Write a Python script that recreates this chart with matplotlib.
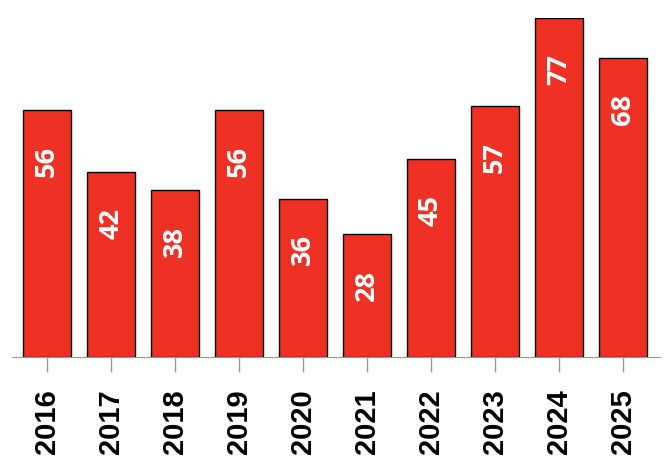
import matplotlib
matplotlib.use("Agg")
import matplotlib.pyplot as plt

years = ["2016", "2017", "2018", "2019", "2020", "2021", "2022", "2023", "2024", "2025"]
counts = [56, 42, 38, 56, 36, 28, 45, 57, 77, 68]

fig = plt.figure(figsize=(6.65, 4.62), dpi=100)
ax = fig.add_axes([12 / 665, 1 - 357 / 462, 648 / 665, (357 - 18) / 462])

x = list(range(len(years)))
ax.bar(x, counts, width=0.75, color="#EE3124", edgecolor="black", linewidth=1)

# value labels inside the bars, near the top
for xi, v in zip(x, counts):
    ax.annotate(str(v), (xi, v), xytext=(0, -37), textcoords="offset points",
                rotation=90, ha="center", va="center", color="white",
                fontsize=19.5, fontweight="bold", family=["Open Sans", "DejaVu Sans"])

ax.set_xlim(-0.55, 9.58)
ax.set_ylim(0, 77)
ax.set_xticks(x)
ax.set_xticklabels(years, rotation=90, fontsize=21, fontweight="bold",
                   family=["Liberation Sans", "DejaVu Sans"])
ax.tick_params(axis="x", length=11, color="#999999", width=1, pad=12)
ax.set_yticks([])
for s in ["top", "right", "left"]:
    ax.spines[s].set_visible(False)
ax.spines["bottom"].set_color("#999999")

fig.savefig("out.png", dpi=100)
